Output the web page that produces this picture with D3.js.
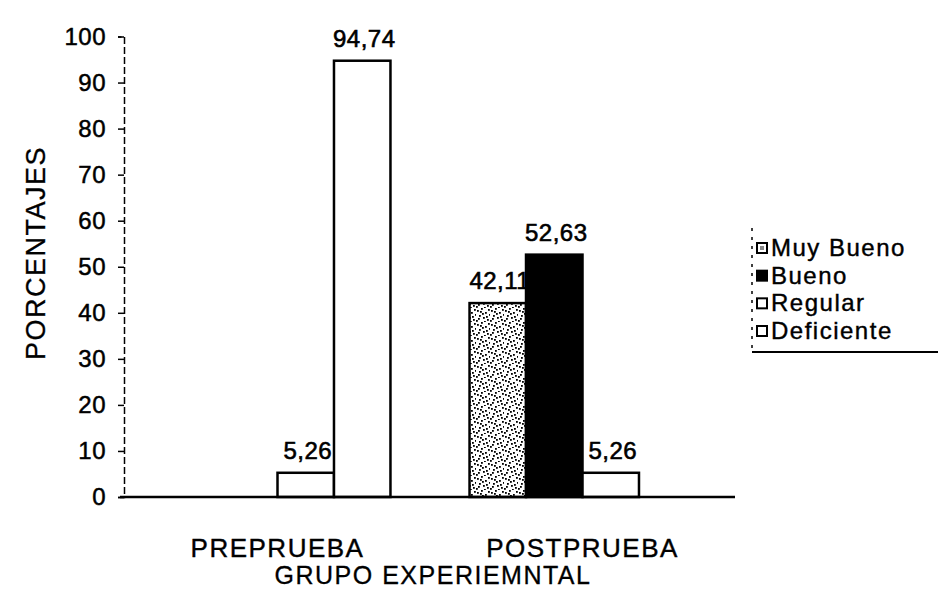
<!DOCTYPE html>
<html><head><meta charset="utf-8">
<script src="https://cdn.jsdelivr.net/npm/d3@7"></script>
<style>
body{margin:0;background:#fff;}
text{font-family:"Liberation Sans",Arial,sans-serif;fill:#000;}
</style></head>
<body><svg id="c" width="938" height="592"></svg>
<script>
const categories = ["PREPRUEBA", "POSTPRUEBA"];
const seriesNames = ["Muy Bueno", "Bueno", "Regular", "Deficiente"];
const muyBueno   = [0, 42.11];
const bueno      = [0, 52.63];
const regular    = [5.26, 5.26];
const deficiente = [94.74, 0];
const yTicks = [0,10,20,30,40,50,60,70,80,90,100];
const seriesValues = [muyBueno, bueno, regular, deficiente];

const svg = d3.select("#c");
const defs = svg.append("defs");
const pat = defs.append("pattern").attr("id","stip").attr("patternUnits","userSpaceOnUse")
  .attr("width",14).attr("height",14);
pat.append("rect").attr("width",14).attr("height",14).attr("fill","#fff");
[[1,2],[5,0],[9,4],[12,1],[3,7],[7,9],[11,11],[0,12],[6,5],[10,8],[2,10],[8,13],[4,3],[13,6]].forEach(p=>{
  pat.append("rect").attr("x",p[0]).attr("y",p[1]).attr("width",1.8).attr("height",1.8).attr("fill","#000");
});
const fills = ["url(#stip)", "#000", "#fff", "#fff"];

const x0 = d3.scaleBand().domain(categories).range([125, 735]).paddingInner(0).paddingOuter(0);
const x1 = d3.scaleBand().domain(seriesNames).range([0, x0.bandwidth()]).paddingInner(0).paddingOuter(0.7);
const y = d3.scaleLinear().domain([0,100]).range([497, 36.5]);

const FS = "font-size";
// Y axis
const yAxis = d3.axisLeft(y).tickValues(yTicks).tickSize(6).tickPadding(12).tickFormat(d3.format("d"));
const ya = svg.append("g").attr("transform","translate(124,0)").call(yAxis);
ya.select(".domain").attr("stroke","#000").attr("stroke-width",1.5).attr("stroke-dasharray","7,3");
ya.selectAll(".tick line").attr("stroke","#000").attr("stroke-width",1.5);
ya.selectAll(".tick text").attr(FS,"24px").attr("font-family","Liberation Sans, Arial, sans-serif")
  .attr("letter-spacing","0.5px").attr("stroke","#000").attr("stroke-width",0.5);

// Bars + labels (later series' bars overlap earlier labels, as in the reference)
seriesNames.forEach((s,si)=>{
  const g = svg.append("g");
  categories.forEach((c,ci)=>{
    const v = seriesValues[si][ci];
    if (v <= 0) return;
    g.append("rect")
      .attr("x", x0(c)+x1(s)).attr("y", y(v))
      .attr("width", x1.bandwidth()).attr("height", y(0)-y(v))
      .attr("fill", fills[si]).attr("stroke","#000").attr("stroke-width",2.5);
    g.append("text")
      .attr("x", x0(c)+x1(s)+x1.bandwidth()/2+2).attr("y", y(v)-14)
      .attr("text-anchor","middle").attr(FS,"24px").attr("letter-spacing","0.5px")
      .attr("stroke","#000").attr("stroke-width",0.6)
      .text(d3.format(".2f")(v).replace(".",","));
  });
});

// X axis
svg.append("line").attr("x1",120).attr("x2",735).attr("y1",497).attr("y2",497)
  .attr("stroke","#000").attr("stroke-width",2.5);
const xAxis = d3.axisBottom(x0).tickSize(0).tickPadding(42);
const xa = svg.append("g").attr("transform","translate(0,497)").call(xAxis);
xa.select(".domain").remove();
xa.selectAll(".tick text").attr(FS,"26px").attr("font-family","Liberation Sans, Arial, sans-serif")
  .attr("stroke","#000").attr("stroke-width",0.4).attr("letter-spacing","1.5px");

// Axis titles
svg.append("text").attr("x",433).attr("y",584).attr("text-anchor","middle")
  .attr(FS,"25px").attr("letter-spacing","1.5px").attr("stroke","#000").attr("stroke-width",0.3)
  .text("GRUPO EXPERIEMNTAL");
svg.append("text").attr("transform","translate(45,253) rotate(-90)").attr("text-anchor","middle")
  .attr(FS,"27px").attr("letter-spacing","1.5px").attr("stroke","#000").attr("stroke-width",0.3)
  .text("PORCENTAJES");

// Legend
const lg = svg.append("g");
lg.append("line").attr("x1",752).attr("x2",752).attr("y1",228).attr("y2",350)
  .attr("stroke","#000").attr("stroke-width",1.5).attr("stroke-dasharray","3,6");
lg.append("line").attr("x1",752).attr("x2",938).attr("y1",352).attr("y2",352)
  .attr("stroke","#000").attr("stroke-width",2);
const ly = d3.scalePoint().domain(seriesNames).range([248, 331]);
seriesNames.forEach((s,si)=>{
  lg.append("rect").attr("x",757).attr("y",ly(s)-5).attr("width",10).attr("height",10)
    .attr("fill", si===0 ? "#fff" : fills[si]).attr("stroke","#000").attr("stroke-width",2);
  if (si===0) lg.append("rect").attr("x",760).attr("y",ly(s)-2).attr("width",4).attr("height",4).attr("fill","#888");
  lg.append("text").attr("x",771).attr("y",ly(s)+8).attr(FS,"24px").attr("letter-spacing","1.5px")
    .attr("stroke","#000").attr("stroke-width",0.4).text(s);
});
</script></body></html>
